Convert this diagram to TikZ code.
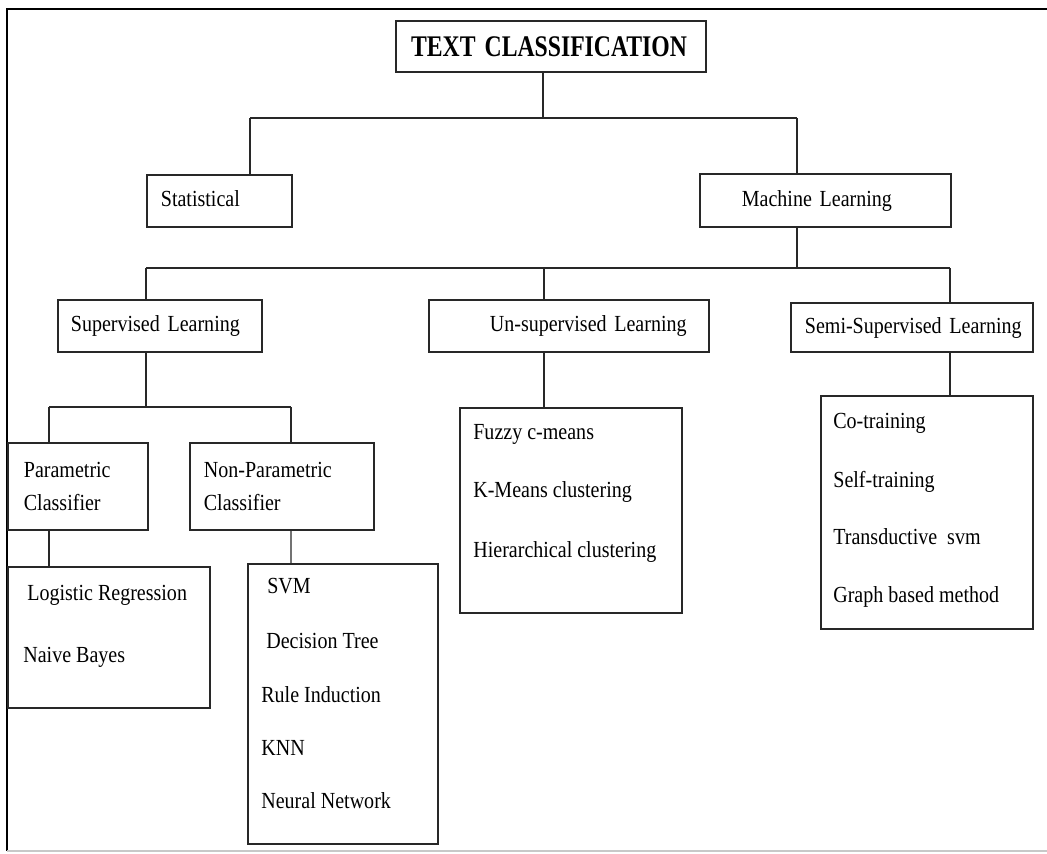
\documentclass[tikz,border=0pt]{standalone}
\usepackage{fontspec}
\setmainfont{Liberation Serif}[FakeStretch=0.87]
\definecolor{randGrau}{RGB}{200,200,200}
\definecolor{linieDunkel}{RGB}{40,40,40}
\tikzset{
  titel/.style={
    rectangle, draw=linieDunkel, line width=1.2pt, anchor=north west,
    align=left, inner ysep=0pt,
    font=\bfseries\fontsize{15.5}{17}\selectfont
  },
  kasten/.style={
    rectangle, draw=linieDunkel, line width=1pt, anchor=north west,
    align=left, inner ysep=0pt, text height=9.1pt, text depth=2.3pt,
    font=\fontsize{13.1}{15}\selectfont
  },
  kastenz/.style={
    rectangle, draw=linieDunkel, line width=1pt, anchor=north west,
    align=left, inner ysep=0pt,
    font=\fontsize{13.1}{18.7}\selectfont
  },
  liste/.style={
    rectangle, draw=linieDunkel, line width=1pt, anchor=north west,
    inner sep=0pt
  },
  eintrag/.style={anchor=base west, inner sep=0pt, font=\fontsize{13.1}{15}\selectfont},
  linie/.style={line width=0.8pt, draw=linieDunkel},
  linieg/.style={line width=0.6pt, draw=black!55}
}

\begin{document}
\begin{tikzpicture}
  \useasboundingbox (0,0) rectangle (20.94,-17.06);

  % outer frame
  \draw[line width=1.4pt] (20.94,-0.18) -- (0.14,-0.18) -- (0.14,-17.02);
  \draw[randGrau, line width=0.8pt] (0.14,-17.02) -- (20.94,-17.02);

  % top level
  \node[titel, minimum width=6.2cm, minimum height=1.02cm, text width=5.6cm, inner xsep=0.3cm]
    (title) at (7.90,-0.40) {\scalebox{1}[1.1]{TEXT CLASSIFICATION}};
  \node[kasten, minimum width=2.9cm, minimum height=1.04cm, text width=2.34cm, inner xsep=0.28cm]
    (stat) at (2.92,-3.48) {Statistical};
  \node[kasten, minimum width=5.02cm, minimum height=1.06cm, text width=3.34cm, inner xsep=0.84cm]
    (ml) at (13.98,-3.46) {Machine Learning};

  % learning types
  \node[kasten, minimum width=4.08cm, minimum height=1.04cm, text width=3.56cm, inner xsep=0.26cm]
    (sup) at (1.14,-5.98) {Supervised Learning};
  \node[kasten, minimum width=5.6cm, minimum height=1.04cm, text width=3.16cm, inner xsep=1.22cm]
    (unsup) at (8.56,-5.98) {\mbox{Un-supervised Learning}};
  \node[kasten, minimum width=4.84cm, minimum height=0.98cm, text width=4.28cm, inner xsep=0.28cm]
    (semi) at (15.80,-6.04) {\mbox{Semi-Supervised Learning}};

  % classifiers
  \node[kastenz, minimum width=2.8cm, minimum height=1.74cm, text width=2.16cm, inner xsep=0.32cm]
    (param) at (0.14,-8.84) {Parametric\\Classifier};
  \node[kastenz, minimum width=3.68cm, minimum height=1.74cm, text width=3.12cm, inner xsep=0.28cm]
    (nonparam) at (3.78,-8.84) {Non-Parametric\\Classifier};

  % method lists
  \node[liste, minimum width=4.04cm, minimum height=2.82cm] (logbox) at (0.14,-11.32) {};
  \node[eintrag] (log1) at (0.54,-12.00) {Logistic Regression};
  \node[eintrag] (log2) at (0.46,-13.24) {Naive Bayes};

  \node[liste, minimum width=3.8cm, minimum height=5.6cm] (npbox) at (4.94,-11.26) {};
  \node[eintrag] (np1) at (5.34,-11.86) {SVM};
  \node[eintrag] (np2) at (5.32,-12.96) {Decision Tree};
  \node[eintrag] (np3) at (5.22,-14.04) {Rule Induction};
  \node[eintrag] (np4) at (5.22,-15.10) {KNN};
  \node[eintrag] (np5) at (5.22,-16.16) {Neural Network};

  \node[liste, minimum width=4.44cm, minimum height=4.1cm] (unsbox) at (9.18,-8.14) {};
  \node[eintrag] (uns1) at (9.46,-8.78) {Fuzzy c-means};
  \node[eintrag] (uns2) at (9.46,-9.94) {K-Means clustering};
  \node[eintrag] (uns3) at (9.46,-11.14) {Hierarchical clustering};

  \node[liste, minimum width=4.24cm, minimum height=4.66cm] (semibox) at (16.40,-7.90) {};
  \node[eintrag] (sem1) at (16.66,-8.56) {Co-training};
  \node[eintrag] (sem2) at (16.66,-9.74) {Self-training};
  \node[eintrag] (sem3) at (16.66,-10.88) {Transductive~~svm};
  \node[eintrag] (sem4) at (16.66,-12.04) {Graph based method};

  % junctions
  \coordinate (j1)  at (10.86,-2.36);
  \coordinate (j1l) at (5.00,-2.36);
  \coordinate (j1r) at (15.94,-2.36);
  \coordinate (j2)  at (15.94,-5.36);
  \coordinate (j2l) at (2.92,-5.36);
  \coordinate (j2m) at (10.88,-5.36);
  \coordinate (j2r) at (19.00,-5.36);
  \coordinate (j3)  at (2.92,-8.14);
  \coordinate (j3l) at (0.98,-8.14);
  \coordinate (j3r) at (5.82,-8.14);

  \draw[linie] (title.south -| j1) -- (j1);
  \draw[linie] (j1l) -- (j1r);
  \draw[linie] (j1l) -- (j1l |- stat.north);
  \draw[linie] (j1r) -- (j1r |- ml.north);

  \draw[linie] (ml.south -| j2) -- (j2);
  \draw[linie] (j2l) -- (j2r);
  \draw[linie] (j2l) -- (j2l |- sup.north);
  \draw[linie] (j2m) -- (j2m |- unsup.north);
  \draw[linie] (j2r) -- (j2r |- semi.north);

  \draw[linie] (sup.south -| j3) -- (j3);
  \draw[linie] (j3l) -- (j3r);
  \draw[linie] (j3l) -- (j3l |- param.north);
  \draw[linie] (j3r) -- (j3r |- nonparam.north);

  \draw[linie] (param.south -| j3l) -- (j3l |- logbox.north);
  \draw[linieg] (nonparam.south -| j3r) -- (j3r |- npbox.north);
  \draw[linie] (unsup.south -| j2m) -- (j2m |- unsbox.north);
  \draw[linie] (semi.south -| j2r) -- (j2r |- semibox.north);
\end{tikzpicture}
\end{document}
